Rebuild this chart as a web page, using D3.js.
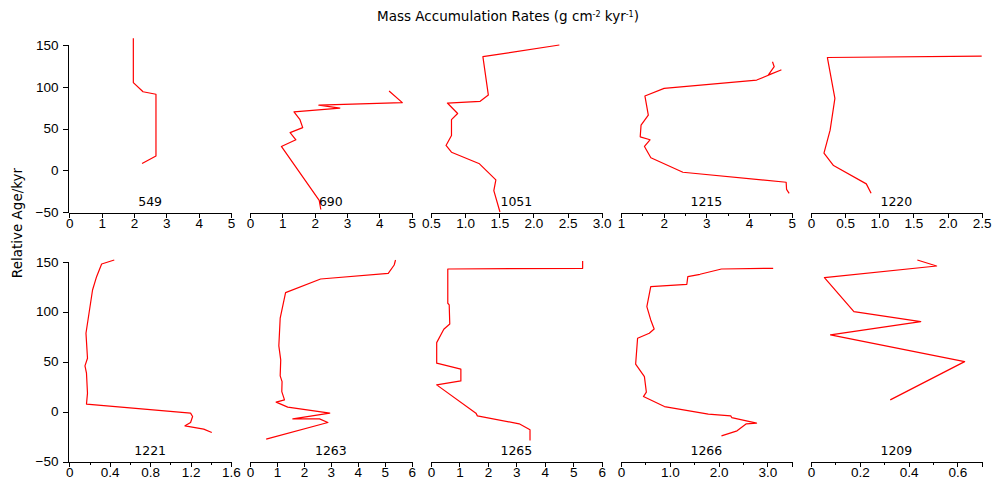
<!DOCTYPE html>
<html>
<head>
<meta charset="utf-8">
<script src="https://cdn.jsdelivr.net/npm/d3@7"></script>
<style>
  body { margin: 0; background: #fff; }
  svg { font-family: "DejaVu Sans", sans-serif; }
  .axis path, .axis line { stroke: #000; shape-rendering: crispEdges; }
  .axis text { font-size: 13.5px; fill: #000; }
</style>
</head>
<body>
<script>
// values: [MAR, relative age]
const s549  = [[1.98,158],[1.98,105],[2.28,94],[2.68,91],[2.68,17],[2.25,8]];
const s690  = [[4.30,95],[4.71,81],[2.13,78],[2.78,74.5],[1.36,70],[1.54,61],[1.63,51],[1.24,45],[1.42,36.5],[0.97,28.5],[2.14,-36],[2.19,-47]];
const s1051 = [[2.38,150],[1.26,136],[1.34,90],[1.22,82.6],[0.74,80.5],[0.89,68],[0.80,60.6],[0.80,41.7],[0.72,29.7],[0.80,21.6],[1.21,7.7],[1.45,-11.5],[1.42,-24.4],[1.51,-50]];
const s1215 = [[4.55,130],[4.59,124],[4.45,114],[4.75,120],[4.18,108],[2.01,98],[1.56,89],[1.64,66],[1.47,54],[1.45,40],[1.68,36.5],[1.55,28.5],[1.70,15],[2.45,-2.4],[4.87,-14.4],[4.88,-23],[4.94,-27.6]];
const s1220 = [[2.50,136.7],[0.24,135],[0.35,86],[0.28,48],[0.19,20.4],[0.33,5.6],[0.81,-16.3],[0.88,-27.6]];
const s1221 = [[0.445,151.7],[0.32,147.7],[0.27,135],[0.23,121.7],[0.165,78.4],[0.18,53.4],[0.155,45.7],[0.17,38.4],[0.18,18.4],[0.17,7.4],[1.20,-1.6],[1.22,-5],[1.20,-11],[1.145,-14.3],[1.33,-17.6],[1.41,-21]];
const s1263 = [[5.40,151.7],[5.35,146.7],[5.13,138.4],[2.62,132.7],[1.32,119],[1.12,93.4],[1.07,65.7],[1.14,51.7],[1.12,35.7],[1.19,30],[1.18,20],[1.28,11.7],[0.97,9.4],[1.40,4.4],[2.96,-1.6],[1.59,-7.3],[2.58,-7.3],[2.89,-11],[0.60,-27.6]];
const s1265 = [[5.33,150.7],[5.33,143.4],[0.59,142.7],[0.59,108.4],[0.64,106.7],[0.66,87.7],[0.45,82.4],[0.20,69],[0.20,48.4],[1.05,42.4],[1.05,30.7],[0.20,26.7],[1.58,-1.6],[1.63,-4.3],[3.10,-12.3],[3.48,-18.3],[3.48,-29]];
const s1266 = [[3.12,143.4],[2.06,142.7],[1.62,137.4],[1.37,135],[1.35,127.4],[0.61,125],[0.53,105],[0.61,91.7],[0.68,82.7],[0.58,78.4],[0.34,73.4],[0.30,47.4],[0.48,35],[0.52,19.4],[0.46,15],[0.89,5],[1.79,-2.6],[2.25,-4.3],[2.27,-6],[2.78,-11.6],[2.57,-12.3],[2.38,-19.3],[2.06,-24.3]];
const s1209 = [[0.436,151.7],[0.515,145.7],[0.055,134],[0.176,100],[0.45,90],[0.08,76.7],[0.63,50],[0.325,11.7]];

const siteNames = ["549","690","1051","1215","1220","1221","1263","1265","1266","1209"];
const siteData  = [s549, s690, s1051, s1215, s1220, s1221, s1263, s1265, s1266, s1209];
// x axis: [min, max], tick step, label step, decimals
const xDomains  = [[0,5],[0,5],[0.5,3],[1,5],[0,2.5],[0,1.6],[0,6],[0,6],[0,3.5],[0,0.7]];
const tickSteps = [1, 1, 0.5, 0.5, 0.5, 0.2, 1, 1, 0.5, 0.1];
const labelSteps= [1, 1, 0.5, 1, 0.5, 0.4, 1, 1, 1, 0.2];
const decimals  = [0, 0, 1, 0, 1, 1, 0, 0, 1, 1];
const ageTicks  = [-50, 0, 50, 100, 150];

const width = 995, height = 492;
const cols = [[69.3,231],[250,411.7],[431,601.7],[621,791.7],[811,981.7]];
const rows = [{top: 45, bottom: 212}, {top: 261.7, bottom: 461.5}];

const svg = d3.select("body").append("svg")
  .attr("width", width)
  .attr("height", height);

const near = (a, b) => Math.abs(a - b) < 1e-6;

siteData.forEach((pts, i) => {
  const r = rows[Math.floor(i / 5)];
  const c = cols[i % 5];
  const [lo, hi] = xDomains[i];

  const x = d3.scaleLinear().domain([lo, hi]).range(c);
  const y = d3.scaleLinear().domain([-50, 150]).range([r.bottom, r.top]);

  const ticks = d3.range(0, Math.round((hi - lo) / tickSteps[i]) + 1)
    .map(k => +(lo + k * tickSteps[i]).toFixed(6));
  const isMajor = v => near(Math.round((v - lo) / labelSteps[i]) * labelSteps[i] + lo, v);
  const fmt = v => v === 0 ? "0" : v.toFixed(decimals[i]);

  const gx = svg.append("g")
    .attr("class", "axis")
    .attr("transform", `translate(0,${Math.floor(r.bottom) + 0.5})`)
    .call(d3.axisBottom(x).tickValues(ticks).tickSizeOuter(0).tickSize(5).tickPadding(1)
      .tickFormat(v => isMajor(v) ? fmt(v) : ""));
  gx.selectAll(".tick line").attr("y2", v => isMajor(v) ? 5 : 3);

  if (i % 5 === 0) {
    svg.append("g")
      .attr("class", "axis")
      .attr("transform", `translate(${Math.floor(c[0] - 2) + 0.5},0)`)
      .call(d3.axisLeft(y).tickValues(ageTicks).tickSizeOuter(0).tickSize(5).tickPadding(4));
  }

  svg.append("path")
    .datum(pts)
    .attr("fill", "none")
    .attr("stroke", "#ff0000")
    .attr("stroke-width", 1.2)
    .attr("stroke-linejoin", "round")
    .attr("d", d3.line().x(d => x(d[0])).y(d => y(d[1])));

  svg.append("text")
    .attr("x", (c[0] + c[1]) / 2)
    .attr("y", r.bottom - 6.5)
    .attr("text-anchor", "middle")
    .style("font-size", "12.5px")
    .text(siteNames[i]);
});

// title
const title = svg.append("text")
  .attr("x", 508)
  .attr("y", 21)
  .attr("text-anchor", "middle")
  .style("font-size", "13.5px");
title.append("tspan").text("Mass Accumulation Rates (g cm");
title.append("tspan").attr("dy", -4).style("font-size", "8px").text("-2");
title.append("tspan").attr("dy", 4).text(" kyr");
title.append("tspan").attr("dy", -4).style("font-size", "8px").text("-1");
title.append("tspan").attr("dy", 4).text(")");

svg.append("text")
  .attr("transform", "translate(22,223) rotate(-90)")
  .attr("text-anchor", "middle")
  .style("font-size", "13.5px")
  .text("Relative Age/kyr");
</script>
</body>
</html>
